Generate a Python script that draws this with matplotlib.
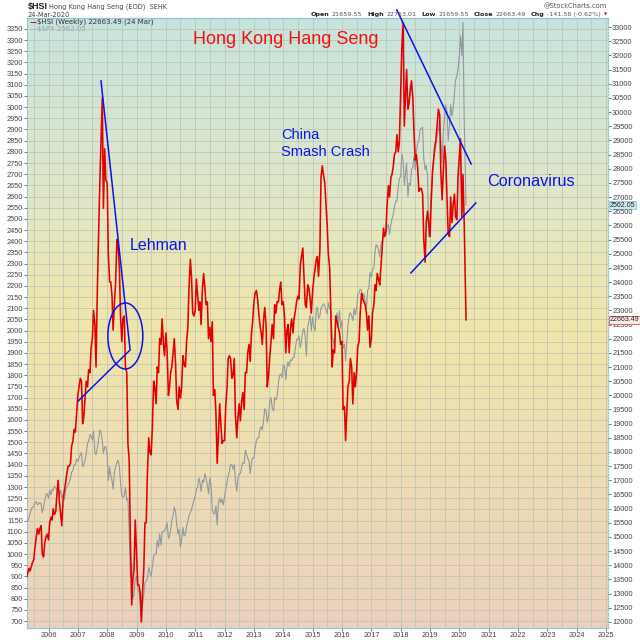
import numpy as np
import pandas as pd
import matplotlib
matplotlib.use("Agg")
import matplotlib.pyplot as plt
import matplotlib.dates as mdates
from matplotlib.patches import Ellipse
from matplotlib.colors import LinearSegmentedColormap

plt.rcParams["font.family"] = ["Liberation Sans", "DejaVu Sans"]

# semi-monthly closes, 2005-04-01 .. 2020-03-15, then the last week (24 Mar 2020)
hsi = [
    # 2005 (Apr-Dec)
    13550, 13700, 13900, 13800, 13950, 14100, 14200, 14600, 15000, 15300, 15100, 15300,
    15400, 14400, 14300, 14800, 15000, 15100,
    # 2006
    14900, 15500, 15700, 15600, 16000, 15800, 15900, 16500, 17000, 16300, 15800, 15400,
    16300, 16600, 16900, 17200, 17500, 17500, 17600, 18200, 18400, 18800, 18700, 19300,
    # 2007
    20000, 20300, 20600, 20500, 19000, 19200, 19900, 20500, 20300, 20900, 20800, 21700,
    22000, 23000, 22500, 21000, 23800, 25500, 27500, 28800, 30500, 26600, 28700, 27600,
    # 2008
    27500, 25000, 24000, 24000, 23500, 22300, 23300, 24000, 25500, 25300, 24500, 22800,
    21900, 22700, 22800, 21000, 20800, 18300, 17700, 15000, 12600, 13500, 13900, 15600,
    # 2009
    14400, 13300, 13300, 13000, 12000, 13000, 13900, 15500, 15500, 17200, 18500, 18000,
    17900, 18800, 20500, 20300, 19700, 21000, 20800, 22000, 21800, 22700, 21800, 21400,
    # 2010
    22200, 21600, 20000, 20300, 20800, 21000, 21500, 22000, 21100, 19800, 19500, 20300,
    19900, 20300, 21400, 21100, 21000, 21900, 22400, 23800, 24800, 24200, 22900, 22800,
    # 2011
    23000, 24100, 23500, 23000, 23300, 22500, 23800, 24300, 23800, 23200, 23300, 22000,
    22400, 21900, 22600, 20000, 20200, 19400, 17600, 18500, 19700, 19000, 18300, 18400,
    # 2012
    18400, 19600, 20300, 21300, 21400, 21300, 20600, 20700, 21300, 19300, 18500, 19200,
    19700, 19100, 19800, 20100, 19500, 20800, 20800, 21500, 21800, 21200, 22200, 22600,
    # 2013
    23300, 23600, 23700, 23400, 22900, 22500, 22200, 21800, 22700, 23100, 22400, 20300,
    20700, 21300, 21900, 22500, 22000, 23200, 22900, 23300, 23300, 23700, 24000, 23200,
    # 2014
    23300, 22800, 21500, 22300, 22500, 21500, 22400, 22700, 22200, 22700, 23000, 23300,
    23500, 23400, 24600, 24900, 25200, 24200, 23200, 23100, 23900, 23800, 23400, 22900,
    # 2015
    23700, 24100, 24500, 24800, 24900, 24200, 25100, 27700, 28100, 27800, 27500, 26800,
    26000, 25000, 24500, 23000, 21000, 21600, 21500, 22800, 22600, 22400, 22200, 21800,
    # 2016
    21900, 19500, 19600, 18400, 19400, 20300, 20500, 21300, 21000, 19700, 20800, 20300,
    20800, 21700, 21900, 22900, 23600, 23400, 23300, 23200, 22900, 22300, 22800, 21700,
    # 2017
    22000, 22900, 23200, 23900, 23700, 24300, 24100, 23900, 24600, 25200, 25900, 25600,
    25800, 26700, 27400, 27000, 27700, 27800, 28100, 28500, 28600, 29200, 28600, 28900,
    # 2018
    30800, 32250, 33150, 29500, 30500, 31500, 30100, 30300, 30800, 31100, 30500, 29300,
    28300, 28500, 28000, 27200, 27300, 27300, 27100, 25500, 24700, 26100, 26500, 26100,
    # 2019
    25600, 26800, 27900, 28300, 28800, 29000, 29600, 30100, 29900, 27900, 26900, 27900,
    28800, 28400, 26900, 25700, 25600, 27000, 26100, 26700, 27100, 26300, 26200, 27700,
    # 2020 (Jan - mid Mar)
    28450, 29050, 26300, 27800, 26130, 24030,
    22663.49,
]

spx = [
    # 2005 (Apr-Dec)
    1180, 1145, 1160, 1180, 1200, 1210, 1210, 1230, 1235, 1220, 1225, 1230,
    1225, 1185, 1210, 1240, 1265, 1270,
    # 2006
    1250, 1285, 1265, 1290, 1285, 1305, 1295, 1290, 1310, 1260, 1285, 1250,
    1270, 1240, 1280, 1300, 1310, 1320, 1340, 1365, 1375, 1400, 1400, 1425,
    # 2007
    1415, 1430, 1445, 1455, 1390, 1400, 1420, 1450, 1495, 1505, 1535, 1530,
    1510, 1550, 1455, 1445, 1475, 1510, 1555, 1545, 1510, 1450, 1480, 1480,
    # 2008
    1445, 1330, 1390, 1350, 1330, 1290, 1370, 1390, 1410, 1420, 1390, 1320,
    1260, 1255, 1260, 1300, 1240, 1250, 1100, 900, 960, 800, 820, 890,
    # 2009
    900, 840, 830, 780, 700, 770, 820, 870, 880, 890, 940, 920,
    900, 940, 990, 1000, 1000, 1060, 1030, 1090, 1040, 1100, 1100, 1105,
    # 2010
    1120, 1140, 1070, 1080, 1110, 1150, 1175, 1210, 1190, 1135, 1090, 1110,
    1030, 1065, 1120, 1080, 1090, 1125, 1145, 1175, 1185, 1200, 1220, 1240,
    # 2011
    1260, 1290, 1300, 1340, 1320, 1280, 1330, 1320, 1360, 1340, 1310, 1270,
    1340, 1315, 1200, 1180, 1180, 1215, 1130, 1225, 1250, 1230, 1245, 1220,
    # 2012
    1260, 1290, 1325, 1350, 1370, 1400, 1400, 1380, 1400, 1330, 1280, 1340,
    1360, 1360, 1390, 1410, 1405, 1465, 1445, 1430, 1415, 1360, 1415, 1430,
    # 2013
    1430, 1475, 1510, 1520, 1520, 1560, 1570, 1555, 1600, 1650, 1640, 1590,
    1615, 1680, 1700, 1655, 1640, 1700, 1690, 1705, 1765, 1800, 1805, 1790,
    # 2014
    1845, 1840, 1780, 1840, 1860, 1840, 1870, 1865, 1880, 1880, 1925, 1960,
    1960, 1975, 1925, 1955, 2000, 2010, 1970, 1885, 2020, 2040, 2070, 2000,
    # 2015
    2060, 2020, 2000, 2095, 2105, 2055, 2065, 2100, 2110, 2120, 2110, 2095,
    2075, 2125, 2100, 2090, 1970, 1960, 1920, 2030, 2080, 2025, 2090, 2010,
    # 2016
    2045, 1920, 1940, 1865, 1950, 2020, 2070, 2080, 2065, 2045, 2100, 2070,
    2100, 2160, 2170, 2185, 2180, 2140, 2165, 2130, 2100, 2180, 2190, 2260,
    # 2017
    2240, 2275, 2280, 2350, 2385, 2380, 2360, 2330, 2390, 2400, 2430, 2435,
    2425, 2460, 2475, 2430, 2475, 2500, 2520, 2555, 2580, 2580, 2640, 2680,
    # 2018
    2690, 2790, 2760, 2650, 2700, 2750, 2600, 2660, 2650, 2720, 2730, 2780,
    2720, 2800, 2840, 2850, 2900, 2905, 2910, 2770, 2720, 2740, 2690, 2420,
    # 2019
    2510, 2600, 2700, 2780, 2800, 2820, 2880, 2905, 2940, 2860, 2750, 2890,
    2960, 3010, 2980, 2850, 2920, 3010, 2960, 2990, 3060, 3120, 3140, 3170,
    # 2020 (Jan - mid Mar)
    3230, 3320, 3230, 3380, 2950, 2710,
    2562.05,
]

dates = list(pd.date_range("2005-04-01", "2020-03-15", freq="SMS")) + [pd.Timestamp("2020-03-24")]
assert len(dates) == len(hsi) == len(spx)

spx_ticks = np.arange(700, 3351, 50)
hsi_ticks = np.arange(12000, 33001, 500)

# hand drawn trend lines (HSI scale)
lehman_line_x = ["2007-01-05", "2008-10-12", "2007-10-16"]
lehman_line_y = [19800, 21600, 31100]
top_line_x = ["2017-11-14", "2020-05-27"]
top_line_y = [33600, 28165]
low_line_x = ["2018-05-08", "2020-07-24"]
low_line_y = [24320, 26790]

ohlc_labels = ["Open", "High", "Low", "Close", "Chg"]
ohlc_values = ["21659.55", "22753.01", "21659.55", "22663.49", "-141.58 (-0.62%)"]


def px(x, y):
    return x / 640, 1 - y / 640


fig = plt.figure(figsize=(6.4, 6.4), dpi=100)
fig.patch.set_facecolor("white")
rect = [27 / 640, 1 - 628 / 640, 581 / 640, 610 / 640]

# gradient background
bg = fig.add_axes(rect, zorder=0)
cmap = LinearSegmentedColormap.from_list(
    "bg", [(0.0, "#c6e4df"), (0.25, "#dde6cc"), (0.5, "#efe6ab"), (0.75, "#eedcb4"), (1.0, "#ebd1be")])
bg.imshow(np.linspace(0, 1, 256).reshape(-1, 1), aspect="auto", cmap=cmap, extent=[0, 1, 1, 0])
bg.axis("off")

ax = fig.add_axes(rect, zorder=1)
ax.patch.set_visible(False)
ax2 = ax.twinx()

gridc = "#bfc4b2"
ax.plot(dates, spx, color="#8f999f", lw=0.8, zorder=3)
ax2.plot(dates, hsi, color="#e40000", lw=1.15, zorder=3)

ax.set_xlim(pd.Timestamp("2005-04-08"), pd.Timestamp("2025-01-24"))
ax.set_ylim(669, 3399)
ax2.set_ylim(11788, 33318)

ax.xaxis.set_major_locator(mdates.YearLocator())
ax.xaxis.set_major_formatter(mdates.DateFormatter("%Y"))
ax.xaxis.set_minor_locator(mdates.MonthLocator(bymonth=7))
ax.set_yticks(spx_ticks)
ax.set_yticklabels([str(v) for v in spx_ticks])
ax2.set_yticks(hsi_ticks)
ax2.set_yticklabels([str(v) for v in hsi_ticks])

ax.grid(which="major", axis="both", color=gridc, lw=0.55)
ax.grid(which="minor", axis="x", color=gridc, lw=0.55)
ax.set_axisbelow(True)

for a in (ax, ax2):
    a.tick_params(labelsize=5.3, colors="#444444", length=2, width=0.5, pad=1)
    a.tick_params(which="minor", length=0)
    for s in a.spines.values():
        s.set_color("#9cc3d0")
        s.set_linewidth(0.8)
    a.spines["left"].set_linestyle(":")
    a.spines["right"].set_linestyle(":")

# trend lines and circle
blue = "#0a14e6"
ax2.plot(pd.to_datetime(lehman_line_x), lehman_line_y, color=blue, lw=1.1, zorder=4)
ax2.plot(pd.to_datetime(top_line_x), top_line_y, color=blue, lw=1.1, zorder=4, clip_on=False)
ax2.plot(pd.to_datetime(low_line_x), low_line_y, color=blue, lw=1.1, zorder=4)
ax2.add_patch(Ellipse((mdates.date2num(pd.Timestamp("2008-08-14")), 22095), 435, 2330,
                      fill=False, edgecolor=blue, lw=1.1, zorder=4))

# annotations
fig.text(*px(286, 40), "Hong Kong Hang Seng", color="#f01010", fontsize=13, ha="center", va="center")
fig.text(*px(281, 135), "China", color=blue, fontsize=10.5, ha="left", va="center")
fig.text(*px(281, 152), "Smash Crash", color=blue, fontsize=10.5, ha="left", va="center")
fig.text(*px(130, 245), "Lehman", color=blue, fontsize=11.5, ha="left", va="center")
fig.text(*px(487, 182), "Coronavirus", color=blue, fontsize=11.7, ha="left", va="center")

# header
hdr = "DejaVu Sans"
fig.text(*px(28, 7), "$HSI", fontsize=6.5, fontweight="bold", va="center", color="#222222")
fig.text(*px(49, 7), "Hong Kong Hang Seng (EOD)  SEHK", fontsize=4.8, va="center", color="#444444",
         family=hdr)
fig.text(*px(28, 15), "24-Mar-2020", fontsize=4.8, va="center", color="#444444", family=hdr)
fig.text(*px(607, 6), "@StockCharts.com", fontsize=4.8, ha="right", va="center", color="#555555",
         family=hdr)

# OHLC row, laid out right to left so the pieces never collide
fig.text(*px(606, 15), "\u25BC", fontsize=3, ha="center", va="center", color="#d01010", family=hdr)
renderer = fig.canvas.get_renderer()
xr = 601
for lab, val in reversed(list(zip(ohlc_labels, ohlc_values))):
    t = fig.text(*px(xr, 14.5), val, fontsize=4.6, ha="right", va="center", color="#555555",
                 family=hdr)
    xr -= t.get_window_extent(renderer).width + 2.5
    t = fig.text(*px(xr, 14.5), lab, fontsize=4.6, ha="right", va="center", color="#222222",
                 fontweight="bold", family=hdr)
    xr -= t.get_window_extent(renderer).width + 5

# legend
fig.text(*px(30, 22), "\u2014", fontsize=5, va="center", color="#e40000", fontweight="bold",
         family=hdr)
fig.text(*px(37, 22), "$HSI (Weekly) 22663.49 (24 Mar)", fontsize=5, va="center", color="#333333",
         family=hdr)
fig.text(*px(30, 29), "\u2014", fontsize=5, va="center", color="#9aa3a8", family=hdr)
fig.text(*px(37, 29), "$SPX 2562.05", fontsize=5, va="center", color="#9aa3a8", family=hdr)

# last-value tags on the right
ax.annotate("2562.05", xy=(1.0, spx[-1]), xycoords=("axes fraction", "data"),
            xytext=(1.5, 0), textcoords="offset points", fontsize=5, va="center", ha="left",
            color="#222222", zorder=10, annotation_clip=False,
            bbox=dict(boxstyle="square,pad=0.12", fc="#cde9f2", ec="#8fc2d6", lw=0.6))
ax2.annotate("22663.49", xy=(1.0, hsi[-1]), xycoords=("axes fraction", "data"),
             xytext=(1.5, 0), textcoords="offset points", fontsize=5, va="center", ha="left",
             color="#222222", zorder=10, annotation_clip=False,
             bbox=dict(boxstyle="square,pad=0.12", fc="#fbecec", ec="#e05050", lw=0.6))

fig.savefig("out.png", dpi=100)
